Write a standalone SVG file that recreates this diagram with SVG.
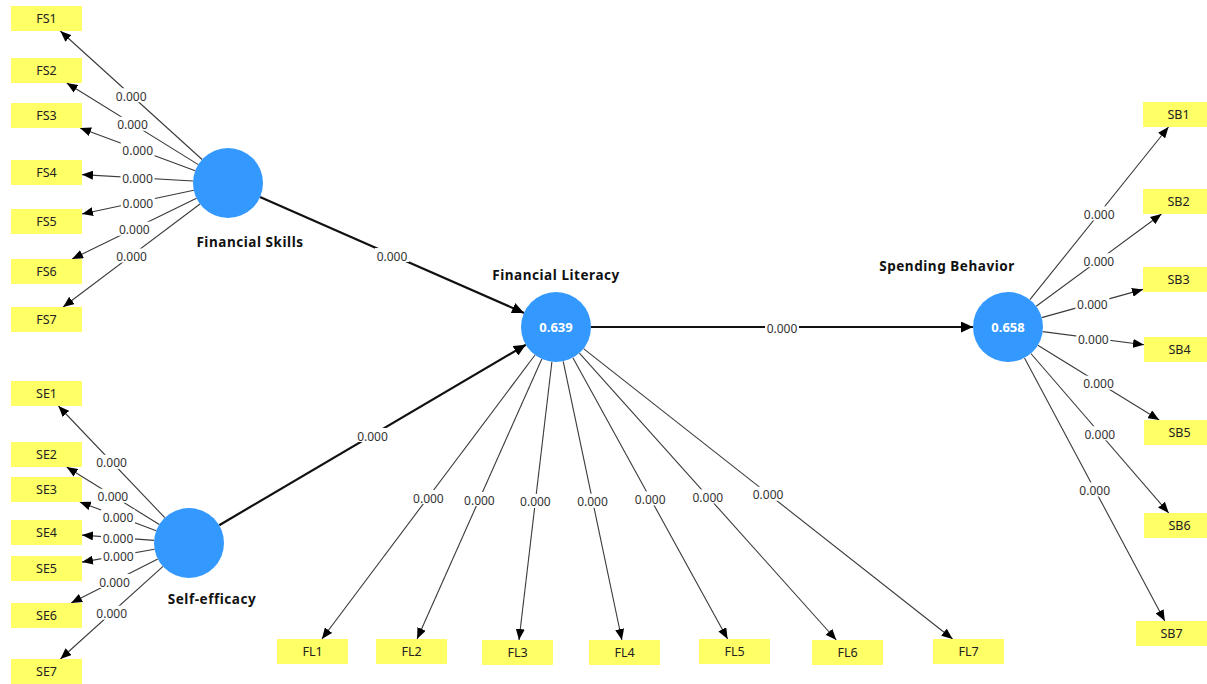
<svg xmlns="http://www.w3.org/2000/svg" width="1207" height="684" viewBox="0 0 1207 684">
<style>
.bg{fill:#ffffff}
.ind rect{fill:#ffff66}
.ind text{font-family:"Noto Sans","Open Sans","Liberation Sans",sans-serif;font-size:12.5px;fill:#222;text-anchor:middle;dominant-baseline:central}
.lv circle{fill:#3399ff}
.lv .val{font-family:"Noto Sans","Open Sans","Liberation Sans",sans-serif;font-size:13px;font-weight:bold;fill:#ffffff;text-anchor:middle;dominant-baseline:central}
.lv .name{font-family:"Noto Sans","Open Sans","Liberation Sans",sans-serif;font-size:13.5px;letter-spacing:0.55px;font-weight:bold;fill:#111;text-anchor:middle;dominant-baseline:central}
.thin{stroke:#3a3a3a;stroke-width:1.1;fill:none;marker-end:url(#ah)}
.thick{stroke:#111;stroke-width:2.2;fill:none;marker-end:url(#ahb)}
.lbl rect{fill:#ffffff}
.lbl text{font-family:"Noto Sans","Open Sans","Liberation Sans",sans-serif;font-size:12px;fill:#333;text-anchor:middle;dominant-baseline:central}
</style>
<defs>
<marker id="ah" markerUnits="userSpaceOnUse" markerWidth="11" markerHeight="9" refX="11" refY="4.5" orient="auto">
<path d="M0,0 L11,4.5 L0,9 z" fill="#000"/>
</marker>
<marker id="ahb" markerUnits="userSpaceOnUse" markerWidth="12" markerHeight="11" refX="12" refY="5.5" orient="auto">
<path d="M0,0 L12,5.5 L0,11 z" fill="#000"/>
</marker>
</defs>
<rect class="bg" x="0" y="0" width="1207" height="684"/>

<g id="connectors">
<!-- Financial Skills outer loadings -->
<line class="thin" x1="202.1" y1="159.5" x2="60.3" y2="31"/>
<line class="thin" x1="198.3" y1="164.6" x2="66.7" y2="83"/>
<line class="thin" x1="195.2" y1="170.8" x2="80.1" y2="128"/>
<line class="thin" x1="193.1" y1="181" x2="82" y2="174.6"/>
<line class="thin" x1="193.8" y1="190.3" x2="82" y2="214"/>
<line class="thin" x1="196.5" y1="198.3" x2="72.1" y2="259"/>
<line class="thin" x1="200" y1="204" x2="63.1" y2="307"/>
<!-- Self-efficacy outer loadings -->
<line class="thin" x1="164.8" y1="517.7" x2="58.4" y2="406"/>
<line class="thin" x1="159.3" y1="524.5" x2="66.6" y2="467"/>
<line class="thin" x1="156.2" y1="530.7" x2="79.8" y2="502"/>
<line class="thin" x1="154.1" y1="540.4" x2="82" y2="535.1"/>
<line class="thin" x1="154.5" y1="549.2" x2="82" y2="562.1"/>
<line class="thin" x1="157.8" y1="558.9" x2="71.1" y2="603"/>
<line class="thin" x1="163" y1="566.4" x2="60.4" y2="659"/>
<!-- Financial Literacy outer loadings -->
<line class="thin" x1="535" y1="355" x2="321.9" y2="639"/>
<line class="thin" x1="541.8" y1="359" x2="417.1" y2="639"/>
<line class="thin" x1="551.9" y1="361.8" x2="519" y2="640"/>
<line class="thin" x1="563.2" y1="361.3" x2="621.9" y2="640"/>
<line class="thin" x1="572.9" y1="357.7" x2="727.6" y2="639"/>
<line class="thin" x1="579.4" y1="353.1" x2="836.3" y2="640"/>
<line class="thin" x1="583.5" y1="348.6" x2="952.6" y2="639"/>
<!-- Spending Behavior outer loadings -->
<line class="thin" x1="1029.9" y1="299.7" x2="1168.5" y2="127"/>
<line class="thin" x1="1036.2" y1="306.3" x2="1161.5" y2="214"/>
<line class="thin" x1="1041.7" y1="317.6" x2="1143" y2="289.4"/>
<line class="thin" x1="1042.7" y1="331.6" x2="1144" y2="344.8"/>
<line class="thin" x1="1037.8" y1="345.3" x2="1159.2" y2="420"/>
<line class="thin" x1="1030.9" y1="353.5" x2="1168.7" y2="513"/>
<line class="thin" x1="1024.5" y1="357.9" x2="1164.8" y2="621"/>
<!-- Structural paths -->
<line class="thick" x1="260" y1="197.1" x2="524" y2="312.9"/>
<line class="thick" x1="219.2" y1="525.2" x2="525.8" y2="344.8"/>
<line class="thick" x1="591" y1="327" x2="973" y2="327"/>

<g class="lbl">
<rect x="114.2" y="88.2" width="34" height="14"/><text x="131.2" y="96.2">0.000</text>
<rect x="115.5" y="116.8" width="34" height="14"/><text x="132.5" y="124.8">0.000</text>
<rect x="120.7" y="142.4" width="34" height="14"/><text x="137.7" y="150.4">0.000</text>
<rect x="120.5" y="170.8" width="34" height="14"/><text x="137.5" y="178.8">0.000</text>
<rect x="120.9" y="195.2" width="34" height="14"/><text x="137.9" y="203.2">0.000</text>
<rect x="117.3" y="221.7" width="34" height="14"/><text x="134.3" y="229.7">0.000</text>
<rect x="114.6" y="248.5" width="34" height="14"/><text x="131.6" y="256.5">0.000</text>

<rect x="94.6" y="454.8" width="34" height="14"/><text x="111.6" y="462.8">0.000</text>
<rect x="95.9" y="488.8" width="34" height="14"/><text x="112.9" y="496.8">0.000</text>
<rect x="101" y="509.4" width="34" height="14"/><text x="118" y="517.4">0.000</text>
<rect x="101" y="530.8" width="34" height="14"/><text x="118" y="538.8">0.000</text>
<rect x="101.3" y="548.7" width="34" height="14"/><text x="118.3" y="556.7">0.000</text>
<rect x="97.5" y="574" width="34" height="14"/><text x="114.5" y="582">0.000</text>
<rect x="94.7" y="605.7" width="34" height="14"/><text x="111.7" y="613.7">0.000</text>

<rect x="411.4" y="490" width="34" height="14"/><text x="428.4" y="498">0.000</text>
<rect x="462.4" y="492" width="34" height="14"/><text x="479.4" y="500">0.000</text>
<rect x="518.4" y="493.9" width="34" height="14"/><text x="535.4" y="501.9">0.000</text>
<rect x="575.5" y="493.7" width="34" height="14"/><text x="592.5" y="501.7">0.000</text>
<rect x="633.2" y="491.4" width="34" height="14"/><text x="650.2" y="499.4">0.000</text>
<rect x="690.8" y="489.5" width="34" height="14"/><text x="707.8" y="497.5">0.000</text>
<rect x="751.1" y="486.8" width="34" height="14"/><text x="768.1" y="494.8">0.000</text>

<rect x="1082.2" y="206.4" width="34" height="14"/><text x="1099.2" y="214.4">0.000</text>
<rect x="1081.9" y="253.2" width="34" height="14"/><text x="1098.9" y="261.2">0.000</text>
<rect x="1075.4" y="296.5" width="34" height="14"/><text x="1092.4" y="304.5">0.000</text>
<rect x="1076.3" y="331.2" width="34" height="14"/><text x="1093.3" y="339.2">0.000</text>
<rect x="1081.5" y="375.7" width="34" height="14"/><text x="1098.5" y="383.7">0.000</text>
<rect x="1082.8" y="426.3" width="34" height="14"/><text x="1099.8" y="434.3">0.000</text>
<rect x="1077.7" y="482.5" width="34" height="14"/><text x="1094.7" y="490.5">0.000</text>

<rect x="375" y="248" width="34" height="14"/><text x="392" y="256">0.000</text>
<rect x="355.5" y="428" width="34" height="14"/><text x="372.5" y="436">0.000</text>
<rect x="765" y="320" width="34" height="14"/><text x="782" y="328">0.000</text>
</g>
</g>

<!-- Latent variables -->
<g id="financial-skills" class="lv">
<circle cx="228" cy="183" r="35"/>
<text class="name" x="250" y="242">Financial Skills</text>
</g>
<g id="self-efficacy" class="lv">
<circle cx="189" cy="543" r="35"/>
<text class="name" x="212" y="599">Self-efficacy</text>
</g>
<g id="financial-literacy" class="lv">
<circle cx="556" cy="327" r="35"/>
<text class="val" x="556" y="327">0.639</text>
<text class="name" x="556" y="275">Financial Literacy</text>
</g>
<g id="spending-behavior" class="lv">
<circle cx="1008" cy="327" r="35"/>
<text class="val" x="1008" y="327">0.658</text>
<text class="name" x="947" y="266">Spending Behavior</text>
</g>

<!-- Indicators -->
<g id="FS1" class="ind"><rect x="11" y="6" width="71" height="25"/><text x="46.5" y="18.5">FS1</text></g>
<g id="FS2" class="ind"><rect x="11" y="58" width="71" height="25"/><text x="46.5" y="70.5">FS2</text></g>
<g id="FS3" class="ind"><rect x="11" y="103" width="71" height="25"/><text x="46.5" y="115.5">FS3</text></g>
<g id="FS4" class="ind"><rect x="11" y="160" width="71" height="25"/><text x="46.5" y="172.5">FS4</text></g>
<g id="FS5" class="ind"><rect x="11" y="209" width="71" height="25"/><text x="46.5" y="221.5">FS5</text></g>
<g id="FS6" class="ind"><rect x="11" y="259" width="71" height="25"/><text x="46.5" y="271.5">FS6</text></g>
<g id="FS7" class="ind"><rect x="11" y="307" width="71" height="25"/><text x="46.5" y="319.5">FS7</text></g>

<g id="SE1" class="ind"><rect x="11" y="381" width="71" height="25"/><text x="46.5" y="393.5">SE1</text></g>
<g id="SE2" class="ind"><rect x="11" y="442" width="71" height="25"/><text x="46.5" y="454.5">SE2</text></g>
<g id="SE3" class="ind"><rect x="11" y="477" width="71" height="25"/><text x="46.5" y="489.5">SE3</text></g>
<g id="SE4" class="ind"><rect x="11" y="520" width="71" height="25"/><text x="46.5" y="532.5">SE4</text></g>
<g id="SE5" class="ind"><rect x="11" y="556" width="71" height="25"/><text x="46.5" y="568.5">SE5</text></g>
<g id="SE6" class="ind"><rect x="11" y="603" width="71" height="25"/><text x="46.5" y="615.5">SE6</text></g>
<g id="SE7" class="ind"><rect x="11" y="659" width="71" height="25"/><text x="46.5" y="671.5">SE7</text></g>

<g id="FL1" class="ind"><rect x="277" y="639" width="71" height="25"/><text x="312.5" y="651.5">FL1</text></g>
<g id="FL2" class="ind"><rect x="376" y="639" width="71" height="25"/><text x="411.5" y="651.5">FL2</text></g>
<g id="FL3" class="ind"><rect x="482" y="640" width="71" height="25"/><text x="517.5" y="652.5">FL3</text></g>
<g id="FL4" class="ind"><rect x="589" y="640" width="71" height="25"/><text x="624.5" y="652.5">FL4</text></g>
<g id="FL5" class="ind"><rect x="699" y="639" width="71" height="25"/><text x="734.5" y="651.5">FL5</text></g>
<g id="FL6" class="ind"><rect x="812" y="640" width="71" height="25"/><text x="847.5" y="652.5">FL6</text></g>
<g id="FL7" class="ind"><rect x="933" y="639" width="71" height="25"/><text x="968.5" y="651.5">FL7</text></g>

<g id="SB1" class="ind"><rect x="1143" y="102" width="71" height="25"/><text x="1178.5" y="114.5">SB1</text></g>
<g id="SB2" class="ind"><rect x="1143" y="189" width="71" height="25"/><text x="1178.5" y="201.5">SB2</text></g>
<g id="SB3" class="ind"><rect x="1143" y="267" width="71" height="25"/><text x="1178.5" y="279.5">SB3</text></g>
<g id="SB4" class="ind"><rect x="1144" y="337" width="71" height="25"/><text x="1179.5" y="349.5">SB4</text></g>
<g id="SB5" class="ind"><rect x="1144" y="420" width="71" height="25"/><text x="1179.5" y="432.5">SB5</text></g>
<g id="SB6" class="ind"><rect x="1144" y="513" width="71" height="25"/><text x="1179.5" y="525.5">SB6</text></g>
<g id="SB7" class="ind"><rect x="1136" y="621" width="71" height="25"/><text x="1171.5" y="633.5">SB7</text></g>
</svg>
